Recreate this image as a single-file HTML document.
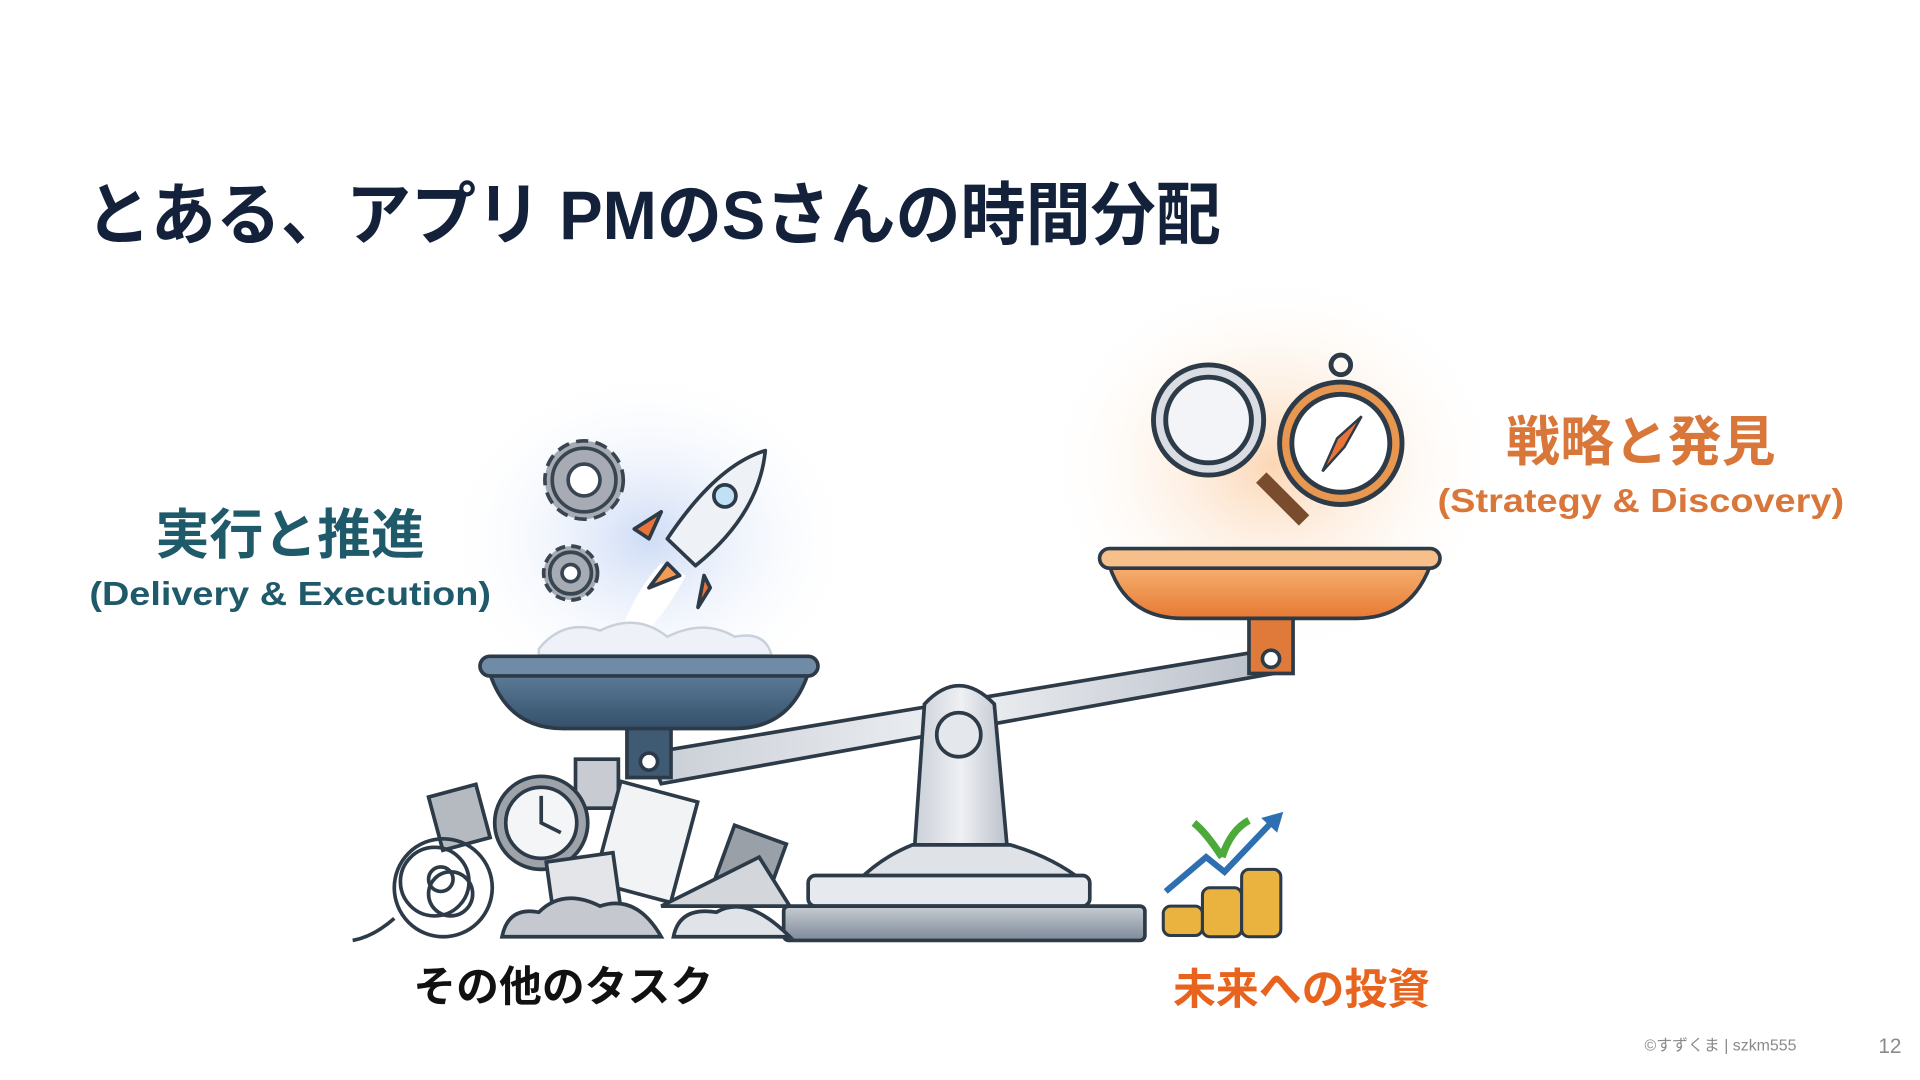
<!DOCTYPE html>
<html><head><meta charset="utf-8"><style>
html,body{margin:0;padding:0;background:#fff;width:1920px;height:1080px;overflow:hidden}
svg{display:block}
text{font-family:"Liberation Sans","Noto Sans CJK JP",sans-serif}
</style></head><body>
<svg width="1920" height="1080" viewBox="0 0 1568 882" xmlns="http://www.w3.org/2000/svg">
<defs>
<radialGradient id="gb" cx="0.5" cy="0.5" r="0.5"><stop offset="0" stop-color="#c9d8f5" stop-opacity="0.9"/><stop offset="1" stop-color="#fff" stop-opacity="0"/></radialGradient>
<radialGradient id="go" cx="0.5" cy="0.5" r="0.5"><stop offset="0" stop-color="#fbd2ac" stop-opacity="0.9"/><stop offset="1" stop-color="#fff" stop-opacity="0"/></radialGradient>
<linearGradient id="pb" x1="0" y1="0" x2="0" y2="1"><stop offset="0" stop-color="#5d7c98"/><stop offset="1" stop-color="#34506a"/></linearGradient>
<linearGradient id="po" x1="0" y1="0" x2="0" y2="1"><stop offset="0" stop-color="#f6b070"/><stop offset="1" stop-color="#e67a34"/></linearGradient>
<linearGradient id="st" x1="0" y1="0" x2="1" y2="0"><stop offset="0" stop-color="#c9ced6"/><stop offset="0.5" stop-color="#eef0f3"/><stop offset="1" stop-color="#b8bec8"/></linearGradient>
<linearGradient id="bs" x1="0" y1="0" x2="0" y2="1"><stop offset="0" stop-color="#c7ccd3"/><stop offset="1" stop-color="#7d8a98"/></linearGradient>
</defs>
<text x="70" y="195" font-size="56" font-weight="bold" fill="#14213a" textLength="927" lengthAdjust="spacingAndGlyphs">とある、アプリ PMのSさんの時間分配</text>

<ellipse cx="530" cy="440" rx="170" ry="140" fill="url(#gb)"/>
<ellipse cx="1040" cy="380" rx="190" ry="160" fill="url(#go)"/>

<text x="237" y="452" font-size="44" font-weight="bold" fill="#1f5a6a" text-anchor="middle">実行と推進</text>
<text x="237" y="494" font-size="27" font-weight="bold" fill="#1f5a6a" text-anchor="middle" textLength="328" lengthAdjust="spacingAndGlyphs">(Delivery &amp; Execution)</text>
<text x="1340" y="376" font-size="44" font-weight="bold" fill="#d9773a" text-anchor="middle">戦略と発見</text>
<text x="1340" y="418" font-size="27" font-weight="bold" fill="#d9773a" text-anchor="middle" textLength="332" lengthAdjust="spacingAndGlyphs">(Strategy &amp; Discovery)</text>

<!-- gears -->
<g fill="#a7acb4" stroke="#3a4552" stroke-width="3">
<circle cx="477" cy="392" r="32" stroke-dasharray="10 6"/>
<circle cx="477" cy="392" r="26"/>
<circle cx="477" cy="392" r="13" fill="#fff"/>
<circle cx="466" cy="468" r="22" stroke-dasharray="8 5"/>
<circle cx="466" cy="468" r="17"/>
<circle cx="466" cy="468" r="7" fill="#fff"/>
</g>
<!-- rocket -->
<g stroke="#2d3a48" stroke-width="3" stroke-linejoin="round">
<path d="M505 520 Q520 480 540 460 L560 470 Q545 500 520 525Z" fill="#fff" stroke="none"/>
<path d="M545 460 L530 480 L555 470Z" fill="#f39a55"/>
<path d="M530 440 L518 432 L540 418Z" fill="#e8743a"/>
<path d="M575 470 L580 480 L570 496Z" fill="#e8743a"/>
<path d="M625 368 Q585 380 545 440 L568 462 Q620 420 625 368Z" fill="#eef1f5"/>
<circle cx="592" cy="405" r="9" fill="#bfe0f5"/>
</g>
<path d="M440 530 Q460 505 490 515 Q520 500 545 520 Q575 505 600 520 Q625 515 630 535 L440 535Z" fill="#eef2f8" stroke="#c8d0dc" stroke-width="2"/>

<!-- magnifier & compass -->
<g stroke="#2d3a48" stroke-width="4">
<line x1="1030" y1="390" x2="1065" y2="425" stroke-width="12" stroke="#7a4c2e"/>
<circle cx="987" cy="343" r="45" fill="#d9dde3"/>
<circle cx="987" cy="343" r="35" fill="#f2f4f7"/>
<circle cx="1095" cy="298" r="8" fill="none"/>
<circle cx="1095" cy="362" r="50" fill="#e79750"/>
<circle cx="1095" cy="362" r="40" fill="#fff"/>
<path d="M1112 340 L1098 365 L1080 385 L1092 358Z" fill="#e8743a" stroke-width="2"/>
</g>

<!-- beam -->
<path d="M530 615 L1040 530 L1040 550 L540 640Z" fill="url(#st)" stroke="#2d3a48" stroke-width="3"/>
<!-- stand -->
<path d="M745 720 L755 575 Q783 545 812 575 L825 720Z" fill="url(#st)" stroke="#2d3a48" stroke-width="3"/>
<path d="M700 720 Q720 700 745 690 L825 690 Q860 700 885 720Z" fill="#dfe3e8" stroke="#2d3a48" stroke-width="3"/>
<rect x="660" y="715" width="230" height="25" rx="6" fill="#e6e9ed" stroke="#2d3a48" stroke-width="3"/>
<rect x="640" y="740" width="295" height="28" rx="4" fill="url(#bs)" stroke="#2d3a48" stroke-width="3"/>
<circle cx="783" cy="600" r="18" fill="#e4e7eb" stroke="#2d3a48" stroke-width="3"/>

<!-- left pan -->
<rect x="512" y="585" width="36" height="50" fill="#3f5a73" stroke="#2d3a48" stroke-width="3"/>
<circle cx="530" cy="622" r="7" fill="#fff" stroke="#2d3a48" stroke-width="3"/>
<path d="M400 550 L660 550 Q645 595 600 595 L460 595 Q415 595 400 550Z" fill="url(#pb)" stroke="#2d3a48" stroke-width="3"/>
<rect x="392" y="536" width="276" height="16" rx="8" fill="#6f8ba6" stroke="#2d3a48" stroke-width="3"/>
<!-- right pan -->
<rect x="1020" y="500" width="36" height="50" fill="#e07a3a" stroke="#2d3a48" stroke-width="3"/>
<circle cx="1038" cy="538" r="7" fill="#fff" stroke="#2d3a48" stroke-width="3"/>
<path d="M906 462 L1168 462 Q1152 505 1108 505 L966 505 Q920 505 906 462Z" fill="url(#po)" stroke="#2d3a48" stroke-width="3"/>
<rect x="898" y="448" width="278" height="16" rx="8" fill="#f7c08a" stroke="#2d3a48" stroke-width="3"/>

<!-- pile of tasks -->
<g stroke="#2d3a48" stroke-width="3">
<rect x="355" y="645" width="40" height="45" fill="#b5bac1" transform="rotate(-15 375 667)"/>
<rect x="470" y="620" width="35" height="40" fill="#c8ccd2"/>
<rect x="590" y="680" width="45" height="50" fill="#9aa0a8" transform="rotate(20 612 705)"/>
<circle cx="442" cy="672" r="38" fill="#9ea3aa"/>
<circle cx="442" cy="672" r="29" fill="#f4f5f7"/>
<path d="M442 650 L442 672 L458 680" fill="none"/>
<rect x="495" y="645" width="65" height="85" fill="#f2f3f5" transform="rotate(15 527 687)"/>
<rect x="450" y="700" width="55" height="60" fill="#e3e5e8" transform="rotate(-8 477 730)"/>
<path d="M540 740 L620 700 L645 740 Z" fill="#d3d6db"/>
<path d="M410 765 Q415 740 440 745 Q460 725 490 740 Q520 730 540 765Z" fill="#c5c9cf"/>
<path d="M550 765 Q555 740 585 745 Q610 730 645 765Z" fill="#e0e3e7"/>
</g>
<g fill="none" stroke="#2d3a48" stroke-width="3">
<circle cx="362" cy="725" r="40"/><circle cx="355" cy="720" r="28"/><circle cx="368" cy="730" r="18"/><circle cx="360" cy="718" r="10"/>
<path d="M322 750 Q305 765 288 768"/>
</g>

<!-- coins -->
<g stroke="#2d3a48" stroke-width="2.5" fill="#eab340">
<rect x="950" y="740" width="32" height="24" rx="6"/>
<rect x="982" y="725" width="32" height="40" rx="6"/>
<rect x="1014" y="710" width="32" height="55" rx="6"/>
</g>
<path d="M952 728 L985 700 L1000 712 L1040 670" fill="none" stroke="#2d6fb0" stroke-width="5"/>
<path d="M1048 663 L1030 668 L1043 680Z" fill="#2d6fb0"/>
<path d="M998 700 Q985 680 975 672 M998 700 Q1005 678 1020 670" stroke="#4caa3a" stroke-width="6" fill="none"/>

<text x="460" y="818" font-size="35" font-weight="bold" fill="#111" text-anchor="middle">その他のタスク</text>
<text x="1063" y="820" font-size="35" font-weight="bold" fill="#e8641e" text-anchor="middle">未来への投資</text>
<text x="1343" y="858" font-size="13" fill="#8a8a8a">©すずくま | szkm555</text>
<text x="1534" y="860" font-size="17" fill="#8a8a8a">12</text>
</svg>
</body></html>
